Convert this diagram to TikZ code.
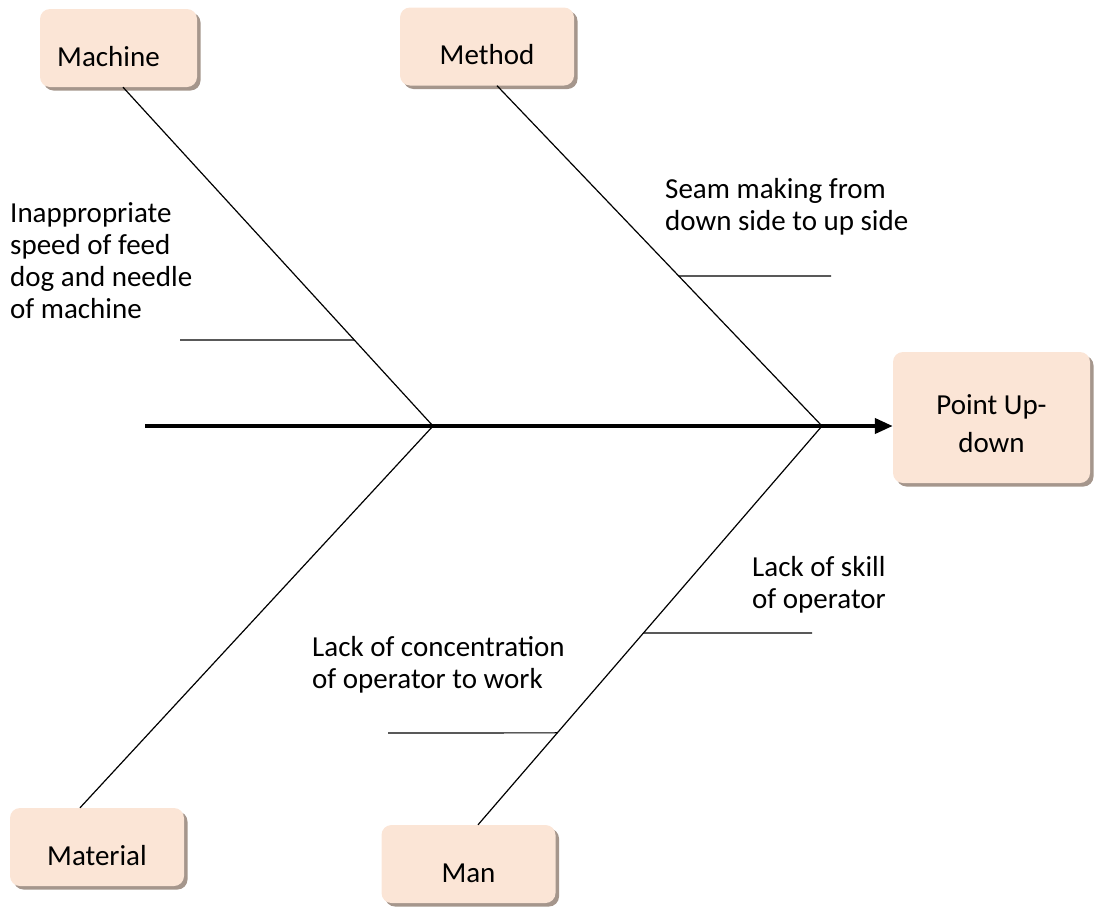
\documentclass[tikz,border=0pt]{standalone}
\usepackage{fontspec}
\setmainfont{Carlito}
\usetikzlibrary{arrows.meta,shadows,calc}
\definecolor{boxfill}{HTML}{FBE5D6}
\definecolor{boxshadow}{RGB}{165,150,140}
\tikzset{
  cause/.style={fill=boxfill, rounded corners=10pt, minimum width=174pt, minimum height=78pt,
    inner sep=0pt, text height=36pt, text depth=0pt,
    drop shadow={fill=boxshadow, opacity=1, shadow xshift=3.5pt, shadow yshift=-3.5pt}},
  effect/.style={fill=boxfill, rounded corners=10pt, minimum width=197pt, minimum height=131pt,
    inner sep=0pt, align=center,
    drop shadow={fill=boxshadow, opacity=1, shadow xshift=3.5pt, shadow yshift=-3.5pt}},
  bone/.style={line width=1.2pt, black},
  spine/.style={line width=4pt, -{Triangle[length=18pt,width=15pt]}},
  note/.style={inner sep=0pt, anchor=north west, align=left},
}
\begin{document}
\begin{tikzpicture}[x=1pt, y=-1pt, font=\fontsize{29}{32}\selectfont]
\useasboundingbox (0,0) rectangle (1094,908);

% boxes
\node[cause, minimum width=157pt] (machine) at (118.5,48) {Machine\hspace*{20pt}};
\node[cause] (method) at (487,46.5) {Method};
\node[cause] (material) at (97,847) {Material};
\node[cause] (man) at (468.5,864) {Man};
\node[effect] (effect) at (991.5,417.5) {\rule{0pt}{32pt}Point Up-\\[6pt]down};

% spine
\coordinate (tail) at (145,426);
\coordinate (j1) at (433,426);
\coordinate (j2) at (822,426);
\draw[spine] (tail) -- (tail -| effect.west);

% bones
\coordinate (b1) at ([xshift=4.5pt]machine.south);
\coordinate (b2) at ([xshift=10pt]method.south);
\coordinate (b3) at ([xshift=-17pt]material.north);
\coordinate (b4) at ([xshift=9.5pt]man.north);
\draw[bone] (b1) -- (j1);
\draw[bone] (b2) -- (j2);
\draw[bone] (b3) -- (j1);
\draw[bone] (b4) -- (j2);

% sub-causes
\coordinate (s1) at ($(b1)!0.746!(j1)$);
\coordinate (s1e) at (180,340);
\draw[bone] (s1e) -- (s1);

\coordinate (s2) at ($(b2)!0.559!(j2)$);
\coordinate (s2e) at (831,276);
\draw[bone] (s2) -- (s2e);

\coordinate (s3) at ($(b4)!0.481!(j2)$);
\coordinate (s3e) at (812,633);
\draw[bone] (s3) -- (s3e);

\coordinate (s4) at ($(b4)!0.2306!(j2)$);
\coordinate (s4e) at (388,733);
\draw[bone] (s4e) -- (s4);

% texts
\node[note] (t1) at (10,202) {Inappropriate\\speed of feed\\dog and needle\\of machine};
\node[note] (t2) at (665,178) {Seam making from\\down side to up side};
\node[note] (t3) at (752,556) {Lack of skill\\of operator};
\node[note] (t4) at (312,636) {Lack of concentration\\of operator to work};
\end{tikzpicture}
\end{document}
